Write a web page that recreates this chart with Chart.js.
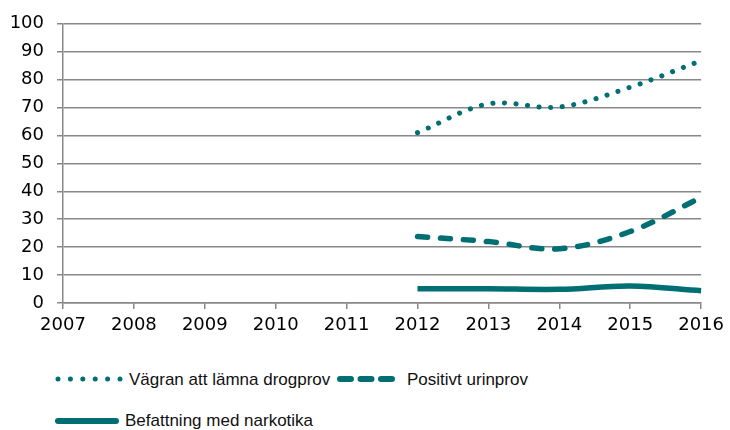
<!DOCTYPE html>
<html lang="sv">
<head>
    <meta charset="UTF-8">
    <title>Drogprov 2007-2016</title>
    <script src="https://cdn.jsdelivr.net/npm/chart.js"></script>
    <style>
        body {
            margin: 0;
            background: #ffffff;
        }
        .wrap {
            position: relative;
            width: 730px;
            height: 430px;
        }
        #chart {
            position: absolute;
            left: 0;
            top: 0;
        }
        .legend {
            position: absolute;
            left: 0;
            top: 350px;
            width: 730px;
            height: 80px;
            font-family: 'Liberation Sans', Arial, sans-serif;
            font-size: 17px;
            color: #111;
        }
        .legend svg {
            position: absolute;
            left: 0;
            top: 0;
        }
        .legend span {
            position: absolute;
            line-height: 20px;
            white-space: nowrap;
        }
    </style>
</head>
<body>
<div class="wrap">
    <canvas id="chart" width="730" height="350"></canvas>
    <div class="legend">
        <svg width="730" height="80">
            <line id="lg0" x1="58" y1="29" x2="120" y2="29" stroke-width="5" stroke-linecap="round" stroke-dasharray="0 12.4"/>
            <line id="lg1" x1="340" y1="29" x2="392" y2="29" stroke-width="6" stroke-linecap="round" stroke-dasharray="11 9.5"/>
            <line id="lg2" x1="58" y1="71" x2="116" y2="71" stroke-width="6" stroke-linecap="round"/>
        </svg>
        <span style="left:129px; top:20px;" id="lt0"></span>
        <span style="left:407px; top:20px;" id="lt1"></span>
        <span style="left:125px; top:61px;" id="lt2"></span>
    </div>
</div>

<script>
    // data
    const years = ['2007', '2008', '2009', '2010', '2011', '2012', '2013', '2014', '2015', '2016'];
    const seriesNames = ['Vägran att lämna drogprov', 'Positivt urinprov', 'Befattning med narkotika'];
    const vagran = [null, null, null, null, null, 61, 71.3, 70.2, 77.3, 86.8];
    const positivt = [null, null, null, null, null, 23.8, 22, 19.4, 25.6, 37.8];
    const befattning = [null, null, null, null, null, 5.1, 5.1, 4.9, 6.1, 4.4];
    const yTicks = [0, 10, 20, 30, 40, 50, 60, 70, 80, 90, 100];

    const teal = '#006f74';
    const gridColor = '#888888';
    const tickFont = { family: 'DejaVu Sans', size: 18 };

    // legend (html)
    seriesNames.forEach((name, i) => {
        document.getElementById('lt' + i).textContent = name;
        document.getElementById('lg' + i).setAttribute('stroke', teal);
    });

    new Chart(document.getElementById('chart'), {
        type: 'line',
        data: {
            labels: years,
            datasets: [
                {
                    label: seriesNames[0],
                    data: vagran,
                    borderColor: teal,
                    borderWidth: 5,
                    borderDash: [0.1, 11.5],
                    borderCapStyle: 'round',
                    tension: 0.35,
                    pointRadius: 0
                },
                {
                    label: seriesNames[1],
                    data: positivt,
                    borderColor: teal,
                    borderWidth: 5.5,
                    borderDash: [10, 13],
                    borderCapStyle: 'round',
                    tension: 0.35,
                    pointRadius: 0
                },
                {
                    label: seriesNames[2],
                    data: befattning,
                    borderColor: teal,
                    borderWidth: 5.5,
                    tension: 0.35,
                    pointRadius: 0
                }
            ]
        },
        options: {
            responsive: false,
            animation: false,
            layout: {
                padding: { top: 21, right: 26, bottom: 0, left: 0 }
            },
            plugins: {
                legend: { display: false },
                tooltip: { enabled: false }
            },
            scales: {
                x: {
                    offset: false,
                    afterFit: s => { s.height = 47; },
                    grid: {
                        drawOnChartArea: false,
                        drawTicks: true,
                        tickLength: 6,
                        color: gridColor,
                        lineWidth: 1.5
                    },
                    border: { color: gridColor, width: 1.5 },
                    ticks: {
                        color: '#000',
                        font: tickFont,
                        padding: 6,
                        maxRotation: 0,
                        autoSkip: false
                    }
                },
                y: {
                    min: 0,
                    max: 100,
                    afterFit: s => { s.width = 63; },
                    afterBuildTicks: s => { s.ticks = yTicks.map(v => ({ value: v })); },
                    grid: {
                        drawTicks: true,
                        tickLength: 6,
                        color: gridColor,
                        lineWidth: 1.5
                    },
                    border: { color: gridColor, width: 1.5 },
                    ticks: {
                        color: '#000',
                        font: tickFont,
                        padding: 13
                    }
                }
            }
        }
    });
</script>
</body>
</html>
